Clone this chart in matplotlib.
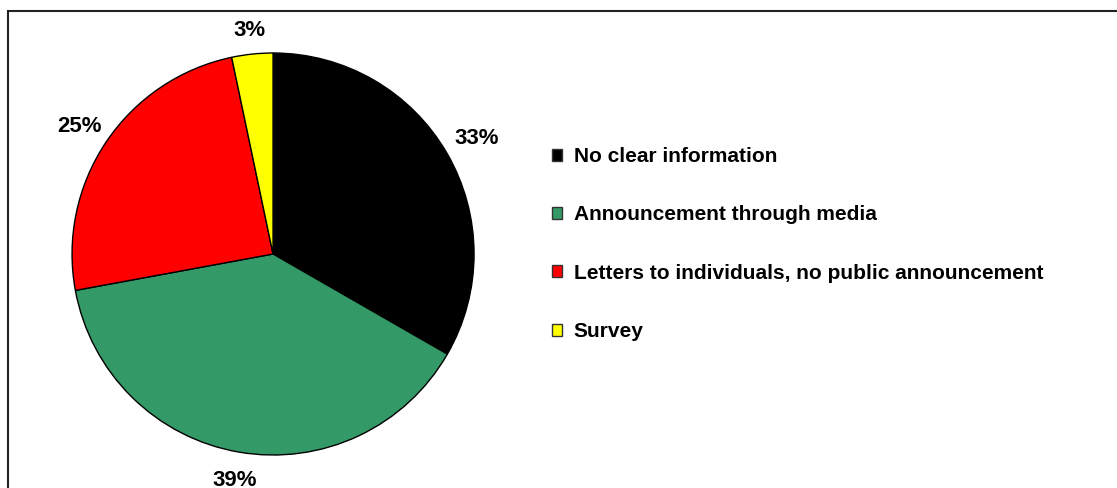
import numpy as np
import matplotlib.pyplot as plt
from matplotlib.patches import Rectangle, Patch

plt.rcParams['font.family'] = ['Liberation Sans', 'DejaVu Sans']

categories = ["No clear information", "Announcement through media",
              "Letters to individuals, no public announcement", "Survey"]
shares = [33.3, 38.8, 24.6, 3.3]
colors = ["#000000", "#339966", "#FF0000", "#FFFF00"]

fig = plt.figure(figsize=(11.17, 4.88), dpi=100)

# outer frame, running off the right and bottom edges
fig.patches.append(Rectangle((8 / 1117, -0.1), 1.2, (488 - 11) / 488 + 0.1,
                             transform=fig.transFigure, fill=False,
                             edgecolor="#222222", linewidth=1.5))

ax = fig.add_axes([0.0645, 0.0676, 0.3599, 0.8238])
wedges, texts = ax.pie(shares, colors=colors, startangle=90, counterclock=False,
                       labels=[f"{v:.0f}%" for v in shares], labeldistance=1.15,
                       wedgeprops=dict(edgecolor="black", linewidth=1))
label_size = 16
for t in texts:
    t.set_fontsize(label_size)
    t.set_fontweight("bold")
    t.set_horizontalalignment("center")
    t.set_verticalalignment("baseline")
ax.set_xlim(-1, 1)
ax.set_ylim(-1, 1)
ax.set_aspect("equal")

# place labels like Excel: fixed gap between the rim and the label box
fig.canvas.draw()
px_per_unit = ax.transData.transform((1, 0))[0] - ax.transData.transform((0, 0))[0]
gap = 18 / px_per_unit
cap_half = 0.716 * label_size * 100 / 72 / 2 / px_per_unit
for w, t in zip(wedges, texts):
    ang = np.deg2rad((w.theta1 + w.theta2) / 2)
    bb = t.get_window_extent()
    hw = bb.width / 2 / px_per_unit
    c, s = abs(np.cos(ang)), abs(np.sin(ang))
    ext = min(hw / c if c > 1e-6 else 1e9, cap_half / s if s > 1e-6 else 1e9)
    d = 1 + gap + ext
    t.set_position((d * np.cos(ang), d * np.sin(ang) - cap_half))

handles = [Patch(facecolor=c, edgecolor="#333333", linewidth=1) for c in colors]
fig.legend(handles, categories, loc="upper left",
           bbox_to_anchor=(552 / 1117, 1 - 147 / 488), frameon=False,
           prop=dict(size=15, weight="bold"), handlelength=0.5,
           handleheight=0.5, handletextpad=0.55, labelspacing=1.89,
           borderaxespad=0, borderpad=0)

fig.savefig("out.png", dpi=100)
